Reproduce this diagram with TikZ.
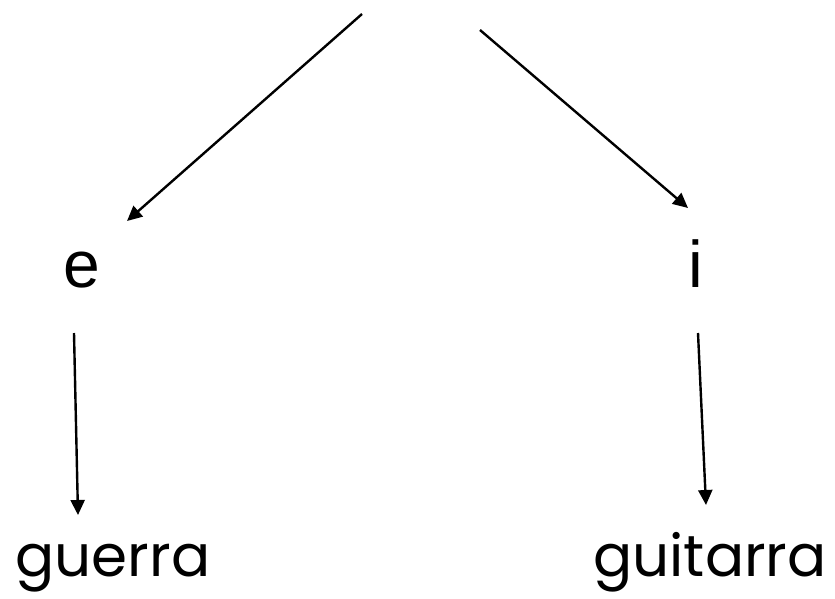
\documentclass[tikz,border=0pt]{standalone}
\usepackage{fontspec}
\setmainfont{Liberation Sans}
\newfontfamily\geofont{Poppins}
\usetikzlibrary{arrows.meta}
\tikzset{
  conn/.style={line width=2.4pt,-{Triangle[length=15pt,width=14pt]}},
  letter/.style={inner sep=0pt,anchor=base,font=\fontsize{66}{66}\selectfont},
  word/.style={inner sep=0pt,anchor=base,font=\geofont\fontsize{58}{58}\selectfont}
}
\begin{document}
\begin{tikzpicture}[x=1pt,y=-1pt]
\useasboundingbox (0,0) rectangle (835,598);
\node[letter] (e) at (82,287) {e};
\node[letter] (i) at (695.5,287) {i};
\node[word] (guerra) at (113,576) {guerra};
\node[word] (guitarra) at (710,576) {guitarra};
\coordinate (t1) at (362,14);
\coordinate (t2) at (480,30);
\coordinate (eTop) at (127,221);
\coordinate (iTop) at (688,208);
\coordinate (eOut) at (74,333);
\coordinate (guerraIn) at (78,515);
\coordinate (iOut) at (698,333);
\coordinate (guitarraIn) at (706,505);
\draw[conn] (t1) -- (eTop);
\draw[conn] (t2) -- (iTop);
\draw[conn] (eOut) -- (guerraIn);
\draw[conn] (iOut) -- (guitarraIn);
\end{tikzpicture}
\end{document}
